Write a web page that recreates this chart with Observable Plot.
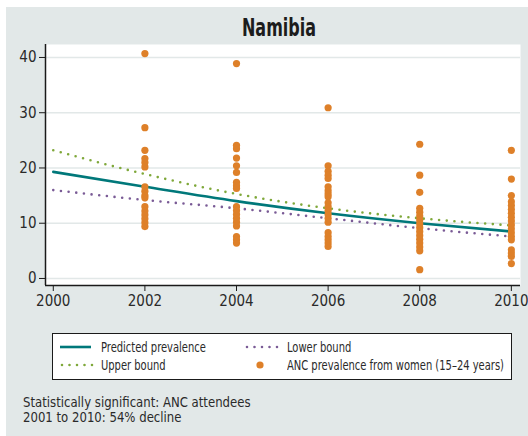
<!DOCTYPE html>
<html>
<head>
<meta charset="utf-8">
<script src="https://cdn.jsdelivr.net/npm/d3@7"></script>
<script src="https://cdn.jsdelivr.net/npm/@observablehq/plot@0.6"></script>
<style>
  html, body { margin: 0; padding: 0; }
  body { width: 528px; height: 436px; position: relative; background: #ffffff; overflow: hidden;
         font-family: "Liberation Sans Narrow", "DejaVu Sans Condensed", "Roboto Condensed", sans-serif; color: #222; }
  #panel { position: absolute; left: 6px; top: 7px; right: 0; bottom: 0; background: #e2e8e8; }
  #title { position: absolute; left: 40px; width: 478px; top: 16px; text-align: center;
           font-weight: bold; font-size: 24px; line-height: 24px; color: #1c1c1c; }
  #title span { display: inline-block; transform: scaleX(0.74); transform-origin: center; }
  #chart { position: absolute; left: 0; top: 0; }
  #legend { position: absolute; left: 52px; top: 333px; width: 458px; height: 45px;
            border: 1px solid #1a1a1a; background: #ffffff; }
  #legend svg { position: absolute; left: 0; top: 0; }
  .lt { position: absolute; font-size: 14px; line-height: 14px; white-space: nowrap; color: #2a2a2a;
        transform: scaleX(0.79); transform-origin: left center; }
  #caption { position: absolute; left: 23px; top: 395px; font-size: 14px; line-height: 15px; color: #2a2a2a; white-space: nowrap;
             transform: scaleX(0.93); transform-origin: left top; }
</style>
</head>
<body>
<div id="panel"></div>
<div id="chart"></div>
<div id="title"><span></span></div>
<div id="legend"></div>
<div id="caption"></div>
<script>
// ---- Data ----
const chartTitle = "Namibia";
const xTicks = [2000, 2002, 2004, 2006, 2008, 2010];
const yTicks = [0, 10, 20, 30, 40];
const xDomain = [1999.83, 2010.2];
const yDomain = [-1.27, 42.35];

const trendYears = [2000, 2002, 2004, 2006, 2008, 2010];
const predicted = [19.3, 16.6, 14.0, 11.8, 10.0, 8.5];
const upperBound = [23.2, 18.9, 15.3, 12.7, 10.9, 9.6];
const lowerBound = [16.0, 14.2, 12.7, 10.9, 9.1, 7.6];

const anc2002 = [40.7, 27.3, 23.2, 21.7, 21.0, 20.2, 16.6, 15.8, 15.0, 14.6, 13.0, 12.2, 11.5, 10.8, 10.1, 9.4];
const anc2004 = [38.9, 24.1, 23.5, 21.8, 20.4, 19.2, 17.4, 16.8, 16.3, 13.0, 12.3, 11.6, 10.9, 10.2, 9.5, 7.6, 7.0, 6.4];
const anc2006 = [30.9, 20.4, 19.4, 18.7, 18.1, 16.6, 15.9, 15.3, 14.8, 13.7, 13.0, 12.3, 11.6, 10.9, 10.2, 8.3, 7.6, 7.0, 6.4, 5.8];
const anc2008 = [24.3, 18.7, 15.6, 12.7, 12.0, 11.3, 10.6, 9.9, 9.2, 8.5, 7.8, 7.1, 6.4, 5.7, 5.0, 1.6];
const anc2010 = [23.2, 18.0, 15.0, 13.9, 13.2, 12.5, 11.8, 11.1, 10.4, 9.7, 9.0, 8.3, 7.6, 7.0, 5.2, 4.6, 4.0, 2.7];

const legendLabels = ["Predicted prevalence", "Lower bound", "Upper bound", "ANC prevalence from women (15\u201324 years)"];
const captionLines = ["Statistically significant: ANC attendees", "2001 to 2010: 54% decline"];

const colors = { predicted: "#00787a", upper: "#7fa83a", lower: "#7a5b96", anc: "#de8029" };

// ---- Build tables ----
const trend = trendYears.map((yr, i) => ({ year: yr, predicted: predicted[i], upper: upperBound[i], lower: lowerBound[i] }));
const ancByYear = [[2002, anc2002], [2004, anc2004], [2006, anc2006], [2008, anc2008], [2010, anc2010]];
const anc = ancByYear.flatMap(([yr, vals]) => vals.map(v => ({ year: yr, value: v })));

const FONT = '"Liberation Sans Narrow", "DejaVu Sans Condensed", "Roboto Condensed", sans-serif';

const plot = Plot.plot({
  width: 528,
  height: 320,
  marginLeft: 45,
  marginRight: 8,
  marginTop: 44,
  marginBottom: 35,
  style: { background: "transparent", fontFamily: FONT, fontSize: "15px", color: "#2a2a2a", overflow: "visible" },
  x: { domain: xDomain, label: null },
  y: { domain: yDomain, label: null },
  marks: [
    Plot.frame({ fill: "white", stroke: null }),
    Plot.gridY(yTicks, { stroke: "#e2e8e8", strokeOpacity: 1, strokeWidth: 1.5 }),
    Plot.line(trend, { x: "year", y: "upper", stroke: colors.upper, strokeWidth: 2.6, strokeDasharray: "0,7.7", strokeLinecap: "round", curve: "monotone-x" }),
    Plot.line(trend, { x: "year", y: "lower", stroke: colors.lower, strokeWidth: 2.6, strokeDasharray: "0,7.7", strokeLinecap: "round", curve: "monotone-x" }),
    Plot.line(trend, { x: "year", y: "predicted", stroke: colors.predicted, strokeWidth: 2.6, curve: "monotone-x" }),
    Plot.dot(anc, { x: "year", y: "value", r: 3.6, fill: colors.anc, stroke: null }),
    Plot.ruleX([xDomain[0]], { stroke: "#1a1a1a", strokeWidth: 1.5 }),
    Plot.ruleY([yDomain[0]], { stroke: "#1a1a1a", strokeWidth: 1.5 }),
    Plot.axisX(xTicks, { tickFormat: "d", tickSize: 6, tickPadding: 4, stroke: "#1a1a1a", fill: "#2a2a2a", label: null }),
    Plot.axisY(yTicks, { tickSize: 6, tickPadding: 3, stroke: "#1a1a1a", fill: "#2a2a2a", label: null })
  ]
});
document.getElementById("chart").appendChild(plot);
document.querySelector("#title span").textContent = chartTitle;

// ---- Legend ----
const legend = document.getElementById("legend");
const ns = "http://www.w3.org/2000/svg";
const lsvg = document.createElementNS(ns, "svg");
lsvg.setAttribute("width", 458);
lsvg.setAttribute("height", 45);
function addLine(x1, x2, y, color, dotted) {
  const l = document.createElementNS(ns, "line");
  l.setAttribute("x1", x1); l.setAttribute("x2", x2);
  l.setAttribute("y1", y); l.setAttribute("y2", y);
  l.setAttribute("stroke", color);
  l.setAttribute("stroke-width", 2.6);
  if (dotted) { l.setAttribute("stroke-dasharray", "0,7.5"); l.setAttribute("stroke-linecap", "round"); }
  lsvg.appendChild(l);
}
addLine(7, 38, 13, colors.predicted, false);
addLine(194, 226, 13, colors.lower, true);
addLine(9, 40, 31, colors.upper, true);
const c = document.createElementNS(ns, "circle");
c.setAttribute("cx", 207); c.setAttribute("cy", 31); c.setAttribute("r", 3.6);
c.setAttribute("fill", colors.anc);
lsvg.appendChild(c);
legend.appendChild(lsvg);
const pos = [[48, 6], [234, 6], [48, 24], [234, 24]];
legendLabels.forEach((t, i) => {
  const s = document.createElement("div");
  s.className = "lt";
  s.style.left = pos[i][0] + "px";
  s.style.top = pos[i][1] + "px";
  s.textContent = t;
  legend.appendChild(s);
});

// ---- Caption ----
document.getElementById("caption").innerHTML = captionLines.map(l => `<div>${l}</div>`).join("");
</script>
</body>
</html>
